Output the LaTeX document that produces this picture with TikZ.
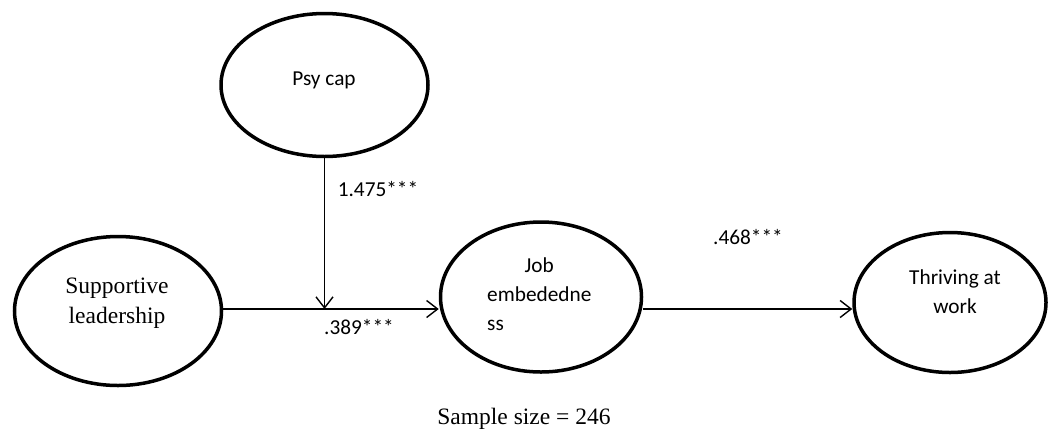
\documentclass[tikz,border=0pt]{standalone}
\usepackage{fontspec}
\setmainfont{Liberation Serif}
\newfontfamily\calibri{Carlito}
\usetikzlibrary{arrows.meta,shapes.geometric}

\tikzset{
  construct/.style={draw, ellipse, line width=3.5pt, inner sep=0pt},
  path arrow/.style={draw, line width=1.4pt,
    -{Straight Barb[length=11pt,width=17pt,line width=1.4pt]}},
  sanslabel/.style={font=\calibri\fontsize{21.3}{29}\selectfont, inner sep=0pt},
  seriflabel/.style={font=\fontsize{23.5}{30}\selectfont, inner sep=0pt, align=center},
}

\begin{document}
\begin{tikzpicture}[x=1pt, y=-1pt]
  \useasboundingbox (0,0) rectangle (1048,432);

  % latent constructs
  \node[construct, minimum width=207pt, minimum height=143pt] (psy) at (324.5,85) {};
  \node[construct, minimum width=207pt, minimum height=149pt] (sup) at (118,311) {};
  \node[construct, minimum width=201pt, minimum height=150pt] (job) at (541,297) {};
  \node[construct, minimum width=192pt, minimum height=140pt] (thr) at (950,302.5) {};

  % construct names
  \node[sanslabel] (psytext) at (324,80) {Psy cap};
  \node[seriflabel] (suptext) at (117,303) {Supportive\\leadership};
  \node[sanslabel, anchor=north west] (jobtext) at (487,252)
    {\begin{tabular}{@{}l@{}}\multicolumn{1}{@{}c@{}}{Job}\\embededne\\ss\end{tabular}};
  \node[sanslabel, align=center] (thrtext) at (955,292) {Thriving at\\work};

  % structural paths
  \coordinate (lvl) at (0,309);
  \coordinate (mod) at (psy.south |- lvl);
  \draw[path arrow] (sup.east |- lvl) -- (job.west |- lvl);
  \draw[path arrow] (psy.south) -- (mod);
  \draw[path arrow] (job.east |- lvl) -- (thr.west |- lvl);

  % path coefficients
  \node[sanslabel] (c1) at (378,189) {1.475***};
  \node[sanslabel] (c2) at (359,327) {.389***};
  \node[sanslabel] (c3) at (748,237) {.468***};

  % sample note
  \node[font=\fontsize{23.5}{28}\selectfont, inner sep=0pt] (note) at (524,419) {Sample size = 246};
\end{tikzpicture}
\end{document}
